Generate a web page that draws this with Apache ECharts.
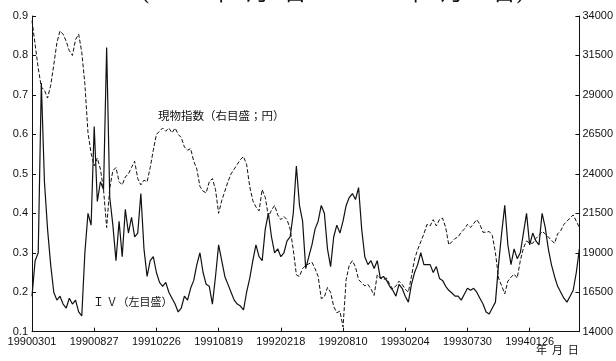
<!DOCTYPE html>
<html><head><meta charset="utf-8">
<script src="https://cdn.jsdelivr.net/npm/echarts@6/dist/echarts.min.js"></script>
<style>html,body{margin:0;padding:0;background:#fff}#c{width:616px;height:361px}</style>
</head><body><div id="c"></div>
<script>
// tick labels on the x axis (one every 20 observations)
const tickLabels = ['19900301','19900827','19910226','19910819','19920218','19920810','19930204','19930730','19940126'];
const ivTicks = [0.1,0.2,0.3,0.4,0.5,0.6,0.7,0.8,0.9];
const spotTicks = [14000,16500,19000,21500,24000,26500,29000,31500,34000];

// IV (left scale)
const iv = [
0.19,0.28,0.30,0.73,0.48,0.36,0.27,0.20,0.18,0.19,
0.17,0.16,0.185,0.17,0.18,0.15,0.14,0.30,0.40,0.37,
0.62,0.43,0.48,0.46,0.82,0.44,0.37,0.28,0.38,0.29,
0.41,0.35,0.39,0.34,0.35,0.45,0.31,0.24,0.28,0.29,
0.25,0.225,0.215,0.225,0.20,0.185,0.17,0.15,0.16,0.19,
0.18,0.21,0.23,0.27,0.30,0.25,0.22,0.215,0.17,0.24,
0.32,0.28,0.24,0.22,0.20,0.18,0.17,0.165,0.155,0.20,
0.235,0.28,0.32,0.29,0.28,0.36,0.40,0.34,0.30,0.31,
0.29,0.30,0.33,0.34,0.40,0.52,0.42,0.38,0.26,0.29,
0.32,0.36,0.38,0.42,0.40,0.31,0.265,0.34,0.37,0.35,
0.38,0.42,0.44,0.45,0.435,0.465,0.36,0.29,0.27,0.28,
0.26,0.28,0.235,0.24,0.23,0.215,0.205,0.19,0.22,0.21,
0.19,0.175,0.22,0.25,0.27,0.30,0.27,0.27,0.27,0.25,
0.265,0.235,0.23,0.215,0.205,0.198,0.19,0.19,0.18,0.195,
0.21,0.205,0.21,0.20,0.185,0.17,0.15,0.145,0.16,0.175,
0.27,0.35,0.42,0.32,0.27,0.31,0.285,0.30,0.35,0.40,
0.32,0.35,0.33,0.32,0.40,0.365,0.31,0.27,0.24,0.215,
0.20,0.185,0.175,0.19,0.205,0.25,0.31
];

// spot index (right scale, yen)
const spot = [
33700,32200,30700,29500,29300,28800,29600,30900,32300,33050,
32850,32400,31800,31500,32500,32850,31700,29700,26600,25300,
24500,25000,24300,23000,20600,23100,24200,24400,23500,23300,
23800,24000,24400,24800,23700,23300,23600,23500,24400,25500,
26500,26700,26900,26700,26900,26600,26900,26500,26300,25700,
25500,25600,24800,24300,23200,22900,22800,23500,23700,23000,
21500,22300,22900,23500,24000,24300,24600,24900,25100,24600,
23200,22300,21900,21650,23000,22500,21300,21700,22000,21400,
21100,21300,21100,20500,19200,17600,17500,18000,18200,18300,
18400,18000,17500,16100,16200,16800,16500,15600,15200,15300,
14300,17300,18200,18500,18100,17300,17100,16900,17000,16700,
16300,17600,17400,17300,17400,17000,16700,16900,17200,17000,
16700,16500,17500,18600,19200,19700,20200,20800,20700,21100,
20700,21100,21200,20600,19500,19700,19900,20000,20300,20500,
20800,20600,20850,21100,20800,20300,20300,20350,20100,19000,
17400,16900,16400,17200,17450,17650,17400,18500,19300,19750,
19600,19600,19900,20100,20350,20200,20000,19800,19600,20200,
20400,20800,21000,21200,21400,21000,20600
];

const ivData = iv.map((v,i)=>[i,v]);
const spotData = spot.map((v,i)=>[i,v]);
const lblFont = {color:'#111', fontSize:11, fontFamily:'"Liberation Sans Narrow","Liberation Sans",sans-serif'};

const chart = echarts.init(document.getElementById('c'), null, {renderer:'canvas'});
chart.setOption({
  animation:false,
  backgroundColor:'#fff',
  grid:{left:32, right:34.3, top:16, bottom:29.3, containLabel:false},
  xAxis:{type:'value', min:0, max:iv.length-1, interval:20,
    axisLine:{lineStyle:{color:'#111', width:1}},
    axisTick:{inside:true, length:4, lineStyle:{color:'#111'}},
    splitLine:{show:false},
    axisLabel:Object.assign({margin:5, showMaxLabel:false,
      formatter:v=>{const k=Math.round(v/20); return (v%20===0 && tickLabels[k])?tickLabels[k]:'';}}, lblFont)
  },
  yAxis:[
    {type:'value', min:ivTicks[0], max:ivTicks[ivTicks.length-1], interval:0.1, position:'left',
     axisLine:{show:true, lineStyle:{color:'#111'}},
     axisTick:{show:true, inside:true, length:4, lineStyle:{color:'#111'}},
     splitLine:{show:false},
     axisLabel:Object.assign({margin:4, formatter:v=>v.toFixed(1)}, lblFont)},
    {type:'value', min:spotTicks[0], max:spotTicks[spotTicks.length-1], interval:2500, position:'right',
     axisLine:{show:true, lineStyle:{color:'#111'}},
     axisTick:{show:true, inside:true, length:4, lineStyle:{color:'#111'}},
     splitLine:{show:false},
     axisLabel:Object.assign({margin:3, formatter:v=>String(Math.round(v))}, lblFont)}
  ],
  series:[
    {name:'IV', type:'line', yAxisIndex:0, data:ivData, showSymbol:false, symbol:'none',
     lineStyle:{color:'#111', width:1.2}},
    {name:'現物指数', type:'line', yAxisIndex:1, data:spotData, showSymbol:false, symbol:'none',
     lineStyle:{color:'#111', width:1, type:[4,2]}}
  ],
  graphic:[
    {type:'text', left:141, top:-17.5, style:{text:'(1990年3月1日 ～ 1994年6月29日)', font:'23px "DejaVu Serif","Noto Sans CJK JP"', fill:'#111'}},
    {type:'text', left:158, top:110, style:{text:'現物指数（右目盛；円）', font:'11.5px "Noto Sans CJK JP"', fill:'#111'}},
    {type:'text', left:93, top:296, style:{text:'Ｉ Ｖ（左目盛）', font:'11px "Noto Sans CJK JP"', fill:'#111'}},
    {type:'text', left:536, top:344, style:{text:'年  月  日', font:'11px "Noto Sans CJK JP"', fill:'#111'}}
  ]
});
</script></body></html>
